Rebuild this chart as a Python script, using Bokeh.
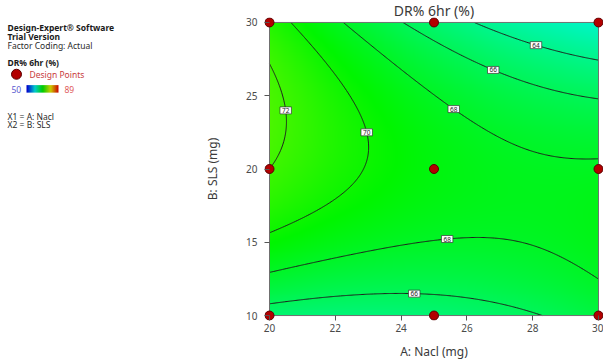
import numpy as np
from bokeh.plotting import figure
from bokeh.layouts import row
from bokeh.models import Range1d, Title
from bokeh.core.properties import value
from bokeh.embed import file_html
from bokeh.resources import INLINE

# ---- data -------------------------------------------------------------
# 3x3 factorial design (A: Nacl, B: SLS)
nacl_levels = [20, 25, 30]          # A: Nacl (mg)
sls_levels = [10, 20, 30]           # B: SLS (mg)
# predicted DR% 6hr at the design points; rows follow sls_levels, columns nacl_levels
dr6_pred = [
    [65.16, 64.93, 66.94],   # SLS 10
    [72.00, 68.98, 68.21],   # SLS 20
    [70.88, 65.08, 61.52],   # SLS 30
]
contour_levels = [64, 66, 68, 70, 72]
scale_low, scale_high = 50, 89
x_ticks = [20, 22, 24, 26, 28, 30]
y_ticks = [10, 15, 20, 25, 30]

FONT = "Noto Sans"

# ---- quadratic response-surface model in coded units ------------------
A_lo, A_hi = min(nacl_levels), max(nacl_levels)
B_lo, B_hi = min(sls_levels), max(sls_levels)
A_c, A_h = (A_lo + A_hi) / 2, (A_hi - A_lo) / 2
B_c, B_h = (B_lo + B_hi) / 2, (B_hi - B_lo) / 2


def terms(a, b):
    x1 = (np.asarray(a, float) - A_c) / A_h
    x2 = (np.asarray(b, float) - B_c) / B_h
    return np.stack([np.ones_like(x1), x1, x2, x1 * x2, x1 ** 2, x2 ** 2], axis=-1)


pts_a, pts_b, pts_y = [], [], []
for i, b in enumerate(sls_levels):
    for j, a in enumerate(nacl_levels):
        pts_a.append(a)
        pts_b.append(b)
        pts_y.append(dr6_pred[i][j])
coef, *_ = np.linalg.lstsq(terms(pts_a, pts_b), np.array(pts_y), rcond=None)


def model(a, b):
    return terms(a, b) @ coef


# ---- colour mapping (hue sweep blue -> green -> red) -----------------
def hsv_colors(vals, v=0.96):
    t = np.clip((np.asarray(vals, float) - scale_low) / (scale_high - scale_low), 0, 1)
    h = (1 - t) * 240.0
    out = []
    for n in (5, 3, 1):
        k = (n + h / 60.0) % 6
        out.append(v - v * np.maximum(0, np.minimum(np.minimum(k, 4 - k), 1)))
    return np.stack(out, axis=-1)


def to_rgba(rgb):
    ny, nx, _ = rgb.shape
    img = np.empty((ny, nx), dtype=np.uint32)
    view = img.view(dtype=np.uint8).reshape((ny, nx, 4))
    view[:, :, :3] = np.round(rgb * 255).astype(np.uint8)
    view[:, :, 3] = 255
    return img


# ---- main contour plot ------------------------------------------------
LEFT_W = 190
W, H = 603 - LEFT_W, 363
pad = 5                     # white gap so edge design points are not clipped
frame_l, frame_r, frame_t, frame_b = 269 - LEFT_W, 598 - LEFT_W, 20, 315
px_x = (A_hi - A_lo) / (frame_r - frame_l)
px_y = (B_hi - B_lo) / (frame_b - frame_t)

p = figure(width=W, height=H, output_backend="svg", toolbar_location=None,
           x_range=Range1d(A_lo - pad * px_x, A_hi + (W - frame_r) * px_x),
           y_range=Range1d(B_lo - pad * px_y, B_hi + pad * px_y),
           min_border_left=frame_l - pad, min_border_right=0,
           min_border_top=frame_t - pad, min_border_bottom=H - frame_b - pad)
p.outline_line_color = None
p.grid.visible = False
p.background_fill_color = "white"

nx, ny = 300, 300
xs = np.linspace(A_lo, A_hi, nx)
ys = np.linspace(B_lo, B_hi, ny)
XX, YY = np.meshgrid(xs, ys)
ZZ = model(XX, YY)
p.image_rgba(image=[to_rgba(hsv_colors(ZZ))], x=A_lo, y=B_lo, dw=A_hi - A_lo, dh=B_hi - B_lo)

p.contour(x=XX, y=YY, z=ZZ, levels=contour_levels, line_color="#1e1e1e", line_width=1)

p.quad(left=A_lo, right=A_hi, bottom=B_lo, top=B_hi, fill_color=None,
       line_color="#707070", line_width=1)

# contour value labels, placed where each contour crosses a guide line
label_specs = [
    (72, "B", 24.0, (20, 25)),
    (70, "B", 22.5, (20, 25)),
    (68, "A", 25.6, (20, 30)),
    (66, "A", 26.8, (20, 30)),
    (64, "A", 28.1, (25, 30)),
    (68, "A", 25.4, (10, 20)),
    (66, "A", 24.4, (10, 20)),
]
lx, ly, lt = [], [], []
for lev, fixed, val, (lo, hi) in label_specs:
    s = np.linspace(lo, hi, 2000)
    if fixed == "B":
        f = model(s, np.full_like(s, val)) - lev
    else:
        f = model(np.full_like(s, val), s) - lev
    idx = np.where(np.sign(f[:-1]) != np.sign(f[1:]))[0]
    if len(idx) == 0:
        continue
    k = idx[-1] if fixed == "B" else idx[0]
    r = s[k] - f[k] * (s[k + 1] - s[k]) / (f[k + 1] - f[k])
    if fixed == "B":
        lx.append(r); ly.append(val)
    else:
        lx.append(val); ly.append(r)
    lt.append(str(lev))
p.text(x=lx, y=ly, text=lt, text_align="center", text_baseline="middle",
       text_font_size="6.5px", text_color="#222222", text_font=value(FONT),
       background_fill_color="white", border_line_color="#333333",
       border_line_width=0.7, padding=(2, 1))

# design points
p.scatter(x=pts_a, y=pts_b, size=9, fill_color="#b30000", line_color="#5a0000", line_width=1)

# axes
for ax, ticks, lab in ((p.xaxis, x_ticks, "A: Nacl (mg)"), (p.yaxis, y_ticks, "B: SLS (mg)")):
    ax.ticker = ticks
    ax.axis_label = lab
    ax.axis_line_color = None
    ax.major_tick_in = pad
    ax.major_tick_out = 0
    ax.major_tick_line_color = "#555555"
    ax.minor_tick_line_color = None
    ax.major_label_text_font = FONT
    ax.major_label_text_font_size = "10px"
    ax.major_label_text_color = "#4a4a4a"
    ax.axis_label_text_font = FONT
    ax.axis_label_text_font_size = "12px"
    ax.axis_label_text_font_style = "normal"
    ax.axis_label_text_color = "#3a3a3a"
p.xaxis.major_label_standoff = 3
p.xaxis.axis_label_standoff = 8
p.yaxis.major_label_standoff = 7
p.yaxis.axis_label_standoff = 22

p.add_layout(Title(text="DR% 6hr (%)", align="center", text_font=FONT,
                   text_font_size="14px", text_font_style="normal",
                   text_color="#3a3a3a", standoff=-4), "above")

# ---- side panel with software info and legend -------------------------
q = figure(width=LEFT_W, height=H, output_backend="svg", toolbar_location=None,
           x_range=Range1d(0, LEFT_W), y_range=Range1d(H, 0),
           x_axis_type=None, y_axis_type=None,
           min_border_left=0, min_border_right=0, min_border_top=0, min_border_bottom=0)
q.outline_line_color = None
q.grid.visible = False

common = dict(text_baseline="middle", text_font=value(FONT), text_font_size="8.5px")
q.text(x=[7, 7, 7], y=[12, 23, 54],
       text=["Design-Expert® Software", "Trial Version", "DR% 6hr (%)"],
       text_font_style="bold", text_color="#1a1a1a", **common)
q.text(x=[7, 7, 7], y=[33, 119, 128],
       text=["Factor Coding: Actual", "X1 = A: Nacl", "X2 = B: SLS"],
       text_color="#2a2a2a", **common)
q.scatter(x=[16], y=[68], size=10, fill_color="#b30000", line_color="#5a0000")
q.text(x=[29], y=[68], text=["Design Points"], text_color="#c83c3c", **common)
q.text(x=[11], y=[86], text=[str(scale_low)], text_color="#5a5ad0", **common)
q.text(x=[64], y=[86], text=[str(scale_high)], text_color="#e05a5a", **common)
bar_vals = np.linspace(scale_low, scale_high, 64)[None, :].repeat(2, axis=0)
q.image_rgba(image=[to_rgba(hsv_colors(bar_vals, v=0.8))], x=26, y=81, dw=32, dh=9)

layout = row(q, p)
open("out.html", "w").write(file_html(layout, INLINE))
